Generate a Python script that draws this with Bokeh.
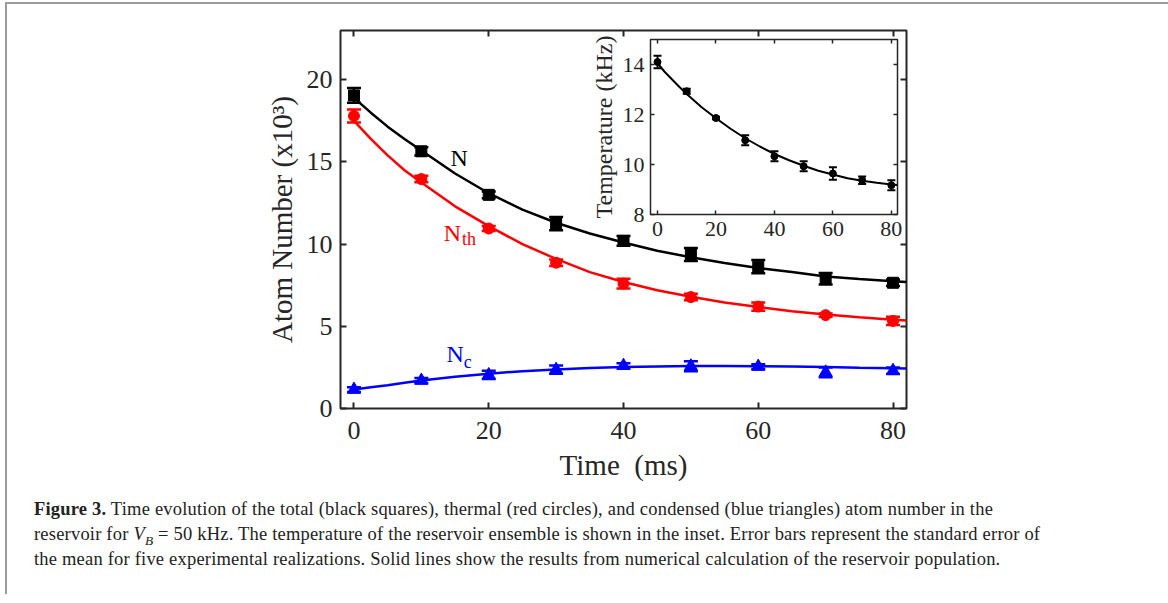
from bokeh.plotting import figure
from bokeh.models import (LinearAxis, FixedTicker, Whisker, TeeHead, ColumnDataSource,
                          Label, Div, Range1d)
from bokeh.layouts import column
from bokeh.embed import file_html
from bokeh.resources import INLINE

# ---------------- data ----------------
time_ms = [0, 10, 20, 30, 40, 50, 60, 70, 80]

n_total = [19.05, 15.65, 13.0, 11.25, 10.2, 9.37, 8.63, 7.9, 7.65]
n_total_err = [0.45, 0.25, 0.2, 0.4, 0.3, 0.4, 0.4, 0.35, 0.2]

n_thermal = [17.8, 13.96, 10.95, 8.87, 7.6, 6.78, 6.2, 5.68, 5.33]
n_thermal_err = [0.4, 0.2, 0.15, 0.2, 0.3, 0.2, 0.25, 0.1, 0.25]

n_cond = [1.15, 1.7, 2.04, 2.36, 2.6, 2.57, 2.55, 2.2, 2.3]
n_cond_err = [0.15, 0.15, 0.25, 0.25, 0.15, 0.3, 0.15, 0.3, 0.2]

temp_khz = [14.1, 12.93, 11.86, 10.97, 10.33, 9.93, 9.64, 9.37, 9.17]
temp_err = [0.25, 0.1, 0.05, 0.2, 0.2, 0.2, 0.25, 0.15, 0.2]

fit_t = [0, 2.5, 5, 7.5, 10, 15, 20, 25, 30, 35, 40, 45, 50, 55, 60, 65, 70, 75, 80, 82]
fit_total = [18.9, 18.0, 17.15, 16.4, 15.7, 14.3, 13.1, 12.1, 11.3, 10.65, 10.1, 9.6,
             9.2, 8.85, 8.55, 8.3, 8.03, 7.88, 7.75, 7.7]
fit_thermal = [17.5, 16.4, 15.4, 14.5, 13.75, 12.3, 11.1, 10.0, 9.1, 8.3, 7.7, 7.2,
               6.8, 6.45, 6.18, 5.92, 5.72, 5.55, 5.4, 5.35]
fit_cond = [1.15, 1.29, 1.42, 1.56, 1.7, 1.93, 2.12, 2.27, 2.38, 2.46, 2.53, 2.56,
            2.58, 2.58, 2.57, 2.55, 2.52, 2.48, 2.45, 2.43]
fit_temp = [14.05, 13.7, 13.4, 13.1, 12.82, 12.3, 11.85, 11.43, 11.05, 10.72, 10.42,
            10.17, 9.95, 9.75, 9.6, 9.45, 9.35, 9.27, 9.2, 9.18]

x_ticks = [0, 20, 40, 60, 80]
y_ticks = [0, 5, 10, 15, 20]
inset_y_ticks = [8, 10, 12, 14]

SERIF = "Liberation Serif"
AXC = "#262626"


def style_axis(ax, ticks, labels=True, size="24px", standoff=8, tick_len=6, lw=2):
    ax.ticker = FixedTicker(ticks=ticks)
    ax.axis_line_color = None
    ax.major_tick_in = tick_len
    ax.major_tick_out = 0
    ax.minor_tick_line_color = None
    ax.major_tick_line_color = AXC
    ax.major_tick_line_width = lw
    ax.major_label_text_font = SERIF
    ax.major_label_text_font_size = size
    ax.major_label_text_color = AXC
    ax.major_label_standoff = standoff
    if not labels:
        ax.major_label_overrides = {t: "" for t in ticks}


def err_source(x, y, e):
    return ColumnDataSource(dict(t=x, y=y,
                                 lo=[a - b for a, b in zip(y, e)],
                                 hi=[a + b for a, b in zip(y, e)]))


# ---------------- main plot ----------------
W, H = 1152, 480
ML, MT, MFW, MFH = 333, 26, 566, 378
X0, X1, Y0, Y1 = -2, 82, 0, 23
main = figure(frame_width=MFW, frame_height=MFH,
              x_range=Range1d(X0, X1), y_range=Range1d(Y0, Y1),
              output_backend="svg", toolbar_location=None,
              min_border_left=ML, min_border_right=W - ML - MFW, min_border_top=MT,
              min_border_bottom=H - MT - MFH)
main.grid.visible = False
main.outline_line_color = AXC
main.outline_line_width = 2
main.background_fill_color = "white"
main.border_fill_color = "white"

style_axis(main.xaxis[0], x_ticks, size="26px", standoff=13)
style_axis(main.yaxis[0], y_ticks, size="26px", standoff=8)
main.xaxis.axis_label = "Time\u00a0\u00a0(ms)"
main.yaxis.axis_label = "Atom Number (x10³)"
for ax in (main.xaxis[0], main.yaxis[0]):
    ax.axis_label_text_font = SERIF
    ax.axis_label_text_font_size = "29px"
    ax.axis_label_text_font_style = "normal"
    ax.axis_label_text_color = AXC
main.xaxis.axis_label_standoff = 7
main.yaxis.axis_label_standoff = 6

top_ax = LinearAxis()
style_axis(top_ax, x_ticks, labels=False, size="1px", standoff=0)
main.add_layout(top_ax, "above")
right_ax = LinearAxis()
style_axis(right_ax, y_ticks, labels=False, size="1px", standoff=0)
main.add_layout(right_ax, "right")

series = [
    (n_total, n_total_err, fit_total, "black", "square", 11),
    (n_thermal, n_thermal_err, fit_thermal, "red", "circle", 11),
    (n_cond, n_cond_err, fit_cond, "blue", "triangle", 13),
]
for vals, errs, fit, col, mk, sz in series:
    main.line(fit_t, fit, line_color=col, line_width=2.5)
    src = err_source(time_ms, vals, errs)
    main.add_layout(Whisker(source=src, base="t", upper="hi", lower="lo",
                            line_color=col, line_width=2.5,
                            upper_head=TeeHead(size=14, line_color=col, line_width=2.5),
                            lower_head=TeeHead(size=14, line_color=col, line_width=2.5)))
    main.scatter("t", "y", source=src, marker=mk, size=sz, fill_color=col,
                 line_color=col)


def lab(x, y, text, color, size, align="center"):
    main.add_layout(Label(x=x, y=y, text=text, text_color=color, text_font=SERIF,
                          text_font_size=size, text_align=align,
                          text_baseline="middle"))


lab(15.6, 15.25, "N", "black", "24px")
lab(14.6, 10.68, "N", "red", "24px")
lab(16.05, 10.3, "th", "red", "18px", "left")
lab(15.0, 3.29, "N", "blue", "24px")
lab(16.3, 2.82, "c", "blue", "18px", "left")

# ---------------- inset (own ranges mapped onto a sub-box of the frame) ----------------
IX0, IX1, IY0, IY1 = -2.4, 82.1, 8, 15        # inset axis limits
BOX_L, BOX_R = 310, 557                        # px from frame left
BOX_TOP, BOX_BOT = 9, 184                      # px from frame top
sx = (IX1 - IX0) / (BOX_R - BOX_L)
sy = (IY1 - IY0) / (BOX_BOT - BOX_TOP)
main.extra_x_ranges = {"ix": Range1d(IX0 - BOX_L * sx, IX1 + (MFW - BOX_R) * sx)}
main.extra_y_ranges = {"iy": Range1d(IY0 - (MFH - BOX_BOT) * sy, IY1 + BOX_TOP * sy)}

main.quad(left=[IX0], right=[IX1], bottom=[IY0], top=[IY1], fill_color="white",
          line_color=AXC, line_width=1.5, x_range_name="ix", y_range_name="iy")

ib = LinearAxis(x_range_name="ix", y_range_name="iy", fixed_location=IY0,
                bounds=(IX0, IX1))
style_axis(ib, x_ticks, size="22px", standoff=7, tick_len=4, lw=1.5)
main.add_layout(ib, "below")
it = LinearAxis(x_range_name="ix", y_range_name="iy", fixed_location=IY1,
                bounds=(IX0, IX1))
style_axis(it, x_ticks, labels=False, size="1px", standoff=0, tick_len=4, lw=1.5)
main.add_layout(it, "above")
il = LinearAxis(x_range_name="ix", y_range_name="iy", fixed_location=IX0,
                bounds=(IY0, IY1), axis_label="Temperature (kHz)")
style_axis(il, inset_y_ticks, size="22px", standoff=6, tick_len=4, lw=1.5)
il.axis_label_text_font = SERIF
il.axis_label_text_font_size = "24px"
il.axis_label_text_font_style = "normal"
il.axis_label_text_color = AXC
il.axis_label_standoff = 3
main.add_layout(il, "left")
ir = LinearAxis(x_range_name="ix", y_range_name="iy", fixed_location=IX1,
                bounds=(IY0, IY1))
style_axis(ir, inset_y_ticks, labels=False, size="1px", standoff=0, tick_len=4, lw=1.5)
main.add_layout(ir, "right")

main.line(fit_t, fit_temp, line_color="black", line_width=2,
          x_range_name="ix", y_range_name="iy")
tsrc = err_source(time_ms, temp_khz, temp_err)
main.segment(x0="t", y0="lo", x1="t", y1="hi", source=tsrc, line_color="black",
             line_width=1.8, x_range_name="ix", y_range_name="iy")
for end in ("lo", "hi"):
    main.scatter("t", end, source=tsrc, marker="dash", size=8, line_color="black",
                 line_width=1.8, x_range_name="ix", y_range_name="iy")
main.scatter("t", "y", source=tsrc, marker="circle", size=7, fill_color="black",
             line_color="black", x_range_name="ix", y_range_name="iy")

# ---------------- caption ----------------
caption_html = (
    '<div style="padding:8px 0 0 22px; font-family:\'Liberation Serif\', serif; '
    'font-size:18.5px; letter-spacing:0.2px; line-height:25px; color:#222; '
    'white-space:nowrap;">'
    '<b>Figure 3.</b> Time evolution of the total (black squares), thermal (red circles), '
    'and condensed (blue triangles) atom number in the<br>'
    'reservoir for <i>V<sub style="line-height:0; font-size:0.72em;">B</sub></i>'
    ' = 50 kHz. The temperature of the reservoir ensemble '
    'is shown in the inset. Error bars represent the standard error of<br>'
    'the mean for five experimental realizations. Solid lines show the results from '
    'numerical calculation of the reservoir population.</div>'
)
caption = Div(text=caption_html, width=W, height=100)

page = column(main, caption, spacing=0,
              styles={"position": "absolute", "left": "5px", "top": "2px",
                      "border-top": "2px solid #9c9c9c",
                      "border-left": "2px solid #9c9c9c",
                      "border-right": "2px solid #9c9c9c"})

open("out.html", "w").write(file_html(page, INLINE))
